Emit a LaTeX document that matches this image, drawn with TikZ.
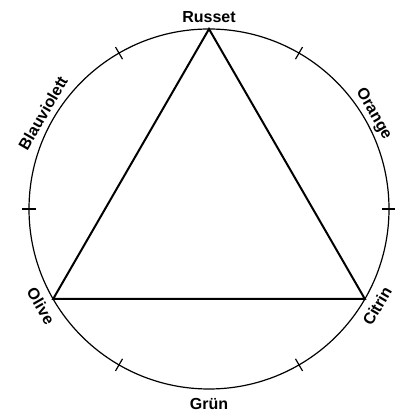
\documentclass[tikz,border=0pt]{standalone}
\usepackage{fontspec}
\setmainfont{Liberation Sans}
\usetikzlibrary{calc}
\begin{document}
\begin{tikzpicture}[x=1pt,y=1pt,
  ring/.style={line width=1.2pt},
  tri/.style={line width=2pt, line join=miter},
  tickmark/.style={line width=1.2pt},
  lblup/.style={font=\bfseries\fontsize{16}{18}\selectfont, inner sep=0pt, anchor=base},
  lbldown/.style={font=\bfseries\fontsize{16}{18}\selectfont, inner sep=0pt, anchor=north}]
\useasboundingbox (0,0) rectangle (395,414);
\coordinate (c) at (209,205);
\node[circle, draw, ring, minimum size=360pt, inner sep=0pt] (ring) at (c) {};
% triangle vertices
\coordinate (russet) at ($(c)+(90:180)$);
\coordinate (olive) at ($(c)+(210:180)$);
\coordinate (citrin) at ($(c)+(330:180)$);
\draw[tri] (russet) -- (olive) -- (citrin) -- cycle;
% ticks
\foreach \a in {0,60,120,180,240,300}{
  \coordinate (ti\a) at ($(c)+(\a:173)$);
  \coordinate (to\a) at ($(c)+(\a:187)$);
  \draw[tickmark] (ti\a) -- (to\a);
}
% labels
\node[lblup] (lrusset) at ($(c)+(90:186)$) {Russet};
\node[lblup, rotate=60] (lblau) at ($(c)+(150:186)$) {Blauviolett};
\node[lblup, rotate=-60] (lorange) at ($(c)+(30:186)$) {Orange};
\node[lbldown, rotate=-60] (lolive) at ($(c)+(210:188)$) {Olive};
\node[lbldown, rotate=60] (lcitrin) at ($(c)+(330:188)$) {Citrin};
\node[lbldown] (lgruen) at ($(c)+(270:189)$) {Grün};
\end{tikzpicture}
\end{document}
